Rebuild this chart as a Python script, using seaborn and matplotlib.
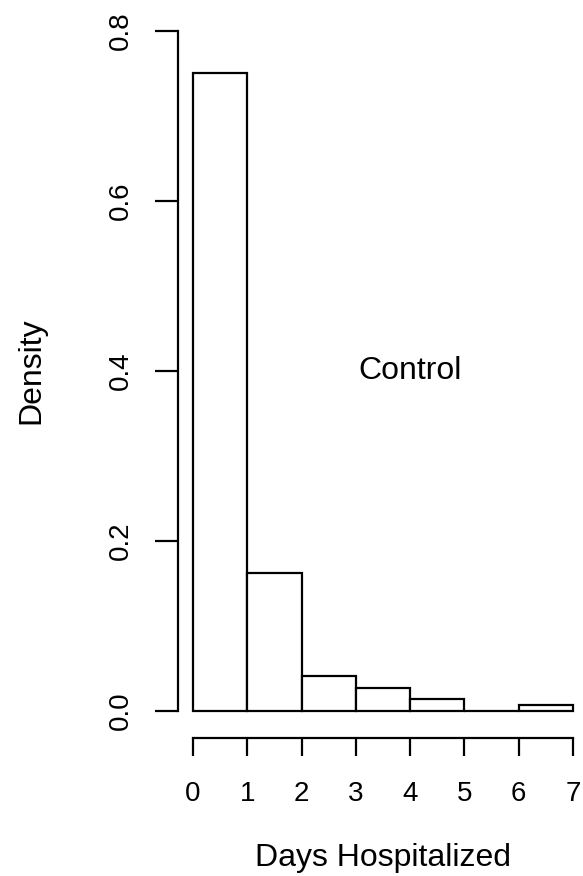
import matplotlib.pyplot as plt
import seaborn as sns

# Control group: density of days hospitalized (bins of width 1)
days_start = [0, 1, 2, 3, 4, 5, 6]
density = [0.75, 0.162, 0.041, 0.027, 0.014, 0.0, 0.007]
bin_edges = [0, 1, 2, 3, 4, 5, 6, 7]
x_ticks = [0, 1, 2, 3, 4, 5, 6, 7]
y_ticks = [0.0, 0.2, 0.4, 0.6, 0.8]
y_tick_labels = ['0.0', '0.2', '0.4', '0.6', '0.8']

sns.set_style('ticks')
plt.rcParams['font.family'] = ['Liberation Sans', 'DejaVu Sans']
plt.rcParams['text.color'] = 'black'
plt.rcParams['axes.labelcolor'] = 'black'

fig = plt.figure(figsize=(5.83, 8.76), dpi=100)
ax = fig.add_axes([0.305, 0.1573, 0.7036, 0.8384])

mids = [d + 0.5 for d in days_start]
sns.histplot(x=mids, weights=density, bins=bin_edges, stat='count',
             color='white', edgecolor='black', linewidth=1.6, alpha=1, ax=ax)

ax.set_xlim(-0.28, 7.28)
ax.set_ylim(-0.032, 0.832)

# R-like detached axes
sns.despine(ax=ax)
ax.spines['left'].set_bounds(0, 0.8)
ax.spines['bottom'].set_bounds(0, 7)
for s in ['left', 'bottom']:
    ax.spines[s].set_linewidth(1.6)
    ax.spines[s].set_color('black')

ax.set_xticks(x_ticks)
ax.set_yticks(y_ticks)
ax.set_yticklabels(y_tick_labels, rotation=90, va='center')
ax.tick_params(axis='x', length=13, width=1.6, pad=18, labelsize=20, colors='black')
ax.tick_params(axis='y', length=16.5, width=1.6, pad=15, labelsize=20, colors='black')

ax.set_xlabel('Days Hospitalized', fontsize=23)
ax.set_ylabel('Density', fontsize=23)
ax.xaxis.set_label_coords(0.5, -0.163)
ax.xaxis.label.set_va('center')
ax.yaxis.set_label_coords(-0.358, 0.5)
ax.yaxis.label.set_va('center')

ax.text(4, 0.4, 'Control', ha='center', va='center', fontsize=23)

fig.savefig('out.png', dpi=100)
